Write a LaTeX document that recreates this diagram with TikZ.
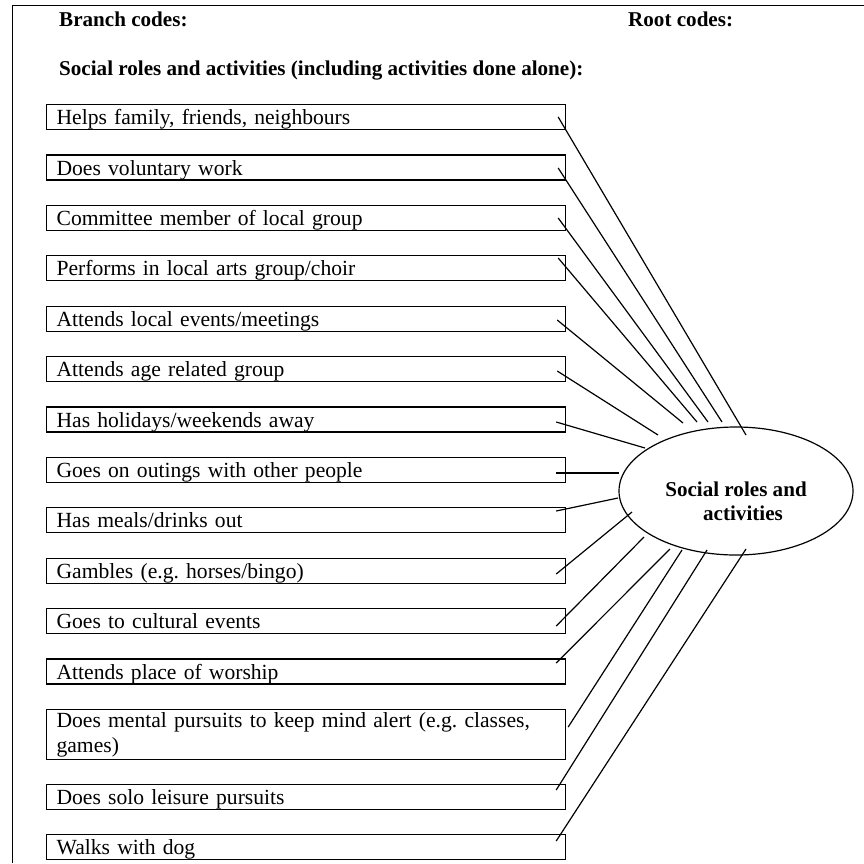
\documentclass[tikz,border=0pt]{standalone}
\usepackage{fontspec}
\setmainfont{Liberation Serif}
\usetikzlibrary{shapes.geometric,calc}
\frenchspacing

\tikzset{
  rule/.style={line width=1.2pt},
  heading/.style={anchor=base west, inner sep=0pt, font=\fontsize{21.1}{24}\selectfont\bfseries},
  codebox/.style={draw, rule, rectangle, anchor=north west, minimum width=519pt,
    text width=499pt, align=left, inner xsep=10pt,
    font=\fontsize{21.6}{25.5}\selectfont},
  onebox/.style={codebox, minimum height=25pt, inner ysep=0pt, text height=20pt, text depth=5pt},
  twobox/.style={codebox, minimum height=50pt, inner ysep=0pt},
  rootnode/.style={draw, rule, ellipse, minimum width=234pt, minimum height=128pt, inner sep=0pt,
    align=center, font=\fontsize{21.1}{24}\selectfont\bfseries},
  link/.style={rule}
}

\begin{document}
\begin{tikzpicture}[x=1pt,y=-1pt]
\useasboundingbox (0,0) rectangle (864,863);

% frame along the left and top edges
\draw[rule] (12.7,863) -- (12.7,5.7) -- (864,5.7);

% headings
\node[heading] (hbranch) at (59,26) {Branch codes:};
\node[heading] (hroot) at (628,26) {Root codes:};
\node[heading] (hsocial) at (59,75) {Social roles and activities (including activities done alone):};

% branch code boxes
\node[onebox] (b1)  at (46,104)   {Helps family, friends, neighbours};
\node[onebox] (b2)  at (46,154.4) {Does voluntary work};
\node[onebox] (b3)  at (46,204.8) {Committee member of local group};
\node[onebox] (b4)  at (46,255.2) {Performs in local arts group/choir};
\node[onebox] (b5)  at (46,305.6) {Attends local events/meetings};
\node[onebox] (b6)  at (46,356)   {Attends age related group};
\node[onebox] (b7)  at (46,406.4) {Has holidays/weekends away};
\node[onebox] (b8)  at (46,456.8) {Goes on outings with other people};
\node[onebox] (b9)  at (46,507.2) {Has meals/drinks out};
\node[onebox] (b10) at (46,557.6) {Gambles (e.g. horses/bingo)};
\node[onebox] (b11) at (46,608)   {Goes to cultural events};
\node[onebox] (b12) at (46,658.4) {Attends place of worship};
\node[twobox] (b13) at (46,709)   {Does mental pursuits to keep mind alert (e.g. classes,\\games)};
\node[onebox] (b14) at (46,784)   {Does solo leisure pursuits};
\node[onebox] (b15) at (46,834)   {Walks with dog};

% root code
\node[rootnode] (root) at (736,491)
  {\rule{0pt}{36pt}Social roles and\\\hspace*{14pt}activities};

% connectors from each branch to the root
\draw[link] ($(b1.north east)+(-8,13)$)     -- ($(root.center)+(10,-56)$);
\draw[link] ($(b2.north east)+(-8,13.6)$)   -- ($(root.center)+(-14,-69)$);
\draw[link] ($(b3.north east)+(-8,13.2)$)   -- ($(root.center)+(-28,-69)$);
\draw[link] ($(b4.north east)+(-8,2.8)$)    -- ($(root.center)+(-39,-69)$);
\draw[link] ($(b5.north east)+(-9,14.4)$)   -- ($(root.center)+(-53,-68)$);
\draw[link] ($(b6.north east)+(-9,15)$)     -- ($(root.center)+(-78,-56)$);
\draw[link] ($(b7.north east)+(-10,15.6)$)  -- ($(root.center)+(-91,-43)$);
\draw[link] ($(b8.north east)+(-10,16.2)$)  -- ($(root.center)+(-117,-18)$);
\draw[link] ($(b9.north east)+(-10,3.8)$)   -- ($(root.center)+(-118,7)$);
\draw[link] ($(b10.north east)+(-10,16.4)$) -- ($(root.center)+(-104,21)$);
\draw[link] ($(b11.north east)+(-10,18)$)   -- ($(root.center)+(-92,46)$);
\draw[link] ($(b12.north east)+(-10,4.6)$)  -- ($(root.center)+(-66,58)$);
\draw[link] ($(b13.north east)+(2,18)$)     -- ($(root.center)+(-54,59)$);
\draw[link] ($(b14.north east)+(-10,6)$)    -- ($(root.center)+(-29,59)$);
\draw[link] ($(b15.north east)+(-10,7)$)    -- ($(root.center)+(10,58)$);
\end{tikzpicture}
\end{document}
